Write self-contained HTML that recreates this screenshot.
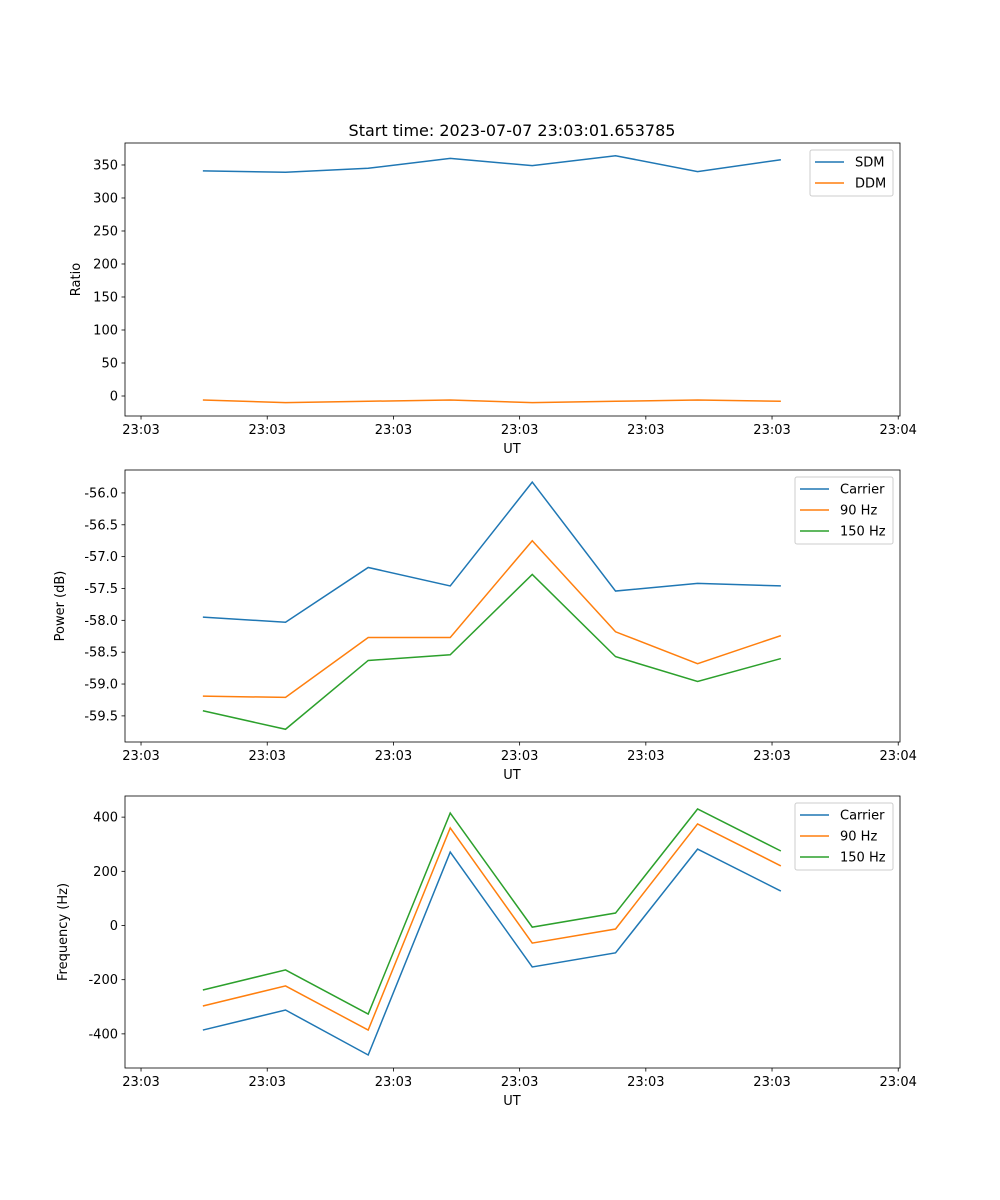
<!DOCTYPE html>
<html><head><meta charset="utf-8"><style>
body{margin:0;background:#fff}
svg{display:block;font-family:"DejaVu Sans","Liberation Sans",sans-serif}
</style></head><body>
<svg id="c" width="1000" height="1200" xmlns="http://www.w3.org/2000/svg">
<text x="512" y="136" font-size="16" text-anchor="middle">Start time: 2023-07-07 23:03:01.653785</text>
</svg>
<script>
const times = [4.9, 11.45, 18.0, 24.5, 31.0, 37.6, 44.1, 50.7];
const xTickVals = [0, 10, 20, 30, 40, 50, 60];
const xTickLabels = ["23:03","23:03","23:03","23:03","23:03","23:03","23:04"];
const sdm = [341, 339, 345, 360, 349, 364, 340, 358];
const ddm = [-6, -10, -8, -6, -10, -8, -6, -8];
const powCarrier = [-57.95, -58.03, -57.17, -57.46, -55.83, -57.54, -57.42, -57.46];
const pow90 = [-59.19, -59.21, -58.27, -58.27, -56.75, -58.18, -58.68, -58.24];
const pow150 = [-59.42, -59.71, -58.63, -58.54, -57.28, -58.57, -58.96, -58.60];
const freqCarrier = [-386, -312, -478, 271, -153, -101, 282, 127];
const freq90 = [-297, -223, -386, 360, -65, -13, 375, 220];
const freq150 = [-238, -164, -327, 415, -6, 46, 430, 275];
const ratioTicks = [0, 50, 100, 150, 200, 250, 300, 350];
const powTicks = [-59.5, -59.0, -58.5, -58.0, -57.5, -57.0, -56.5, -56.0];
const freqTicks = [-400, -200, 0, 200, 400];

const svg = document.getElementById('c');
const NS = 'http://www.w3.org/2000/svg';
const L = 125, R = 900, X0 = -1.27, X1 = 60.14;
const C = ['#1f77b4', '#ff7f0e', '#2ca02c'];
function el(tag, attrs, parent) {
  const e = document.createElementNS(NS, tag);
  for (const k in attrs) e.setAttribute(k, attrs[k]);
  (parent || svg).appendChild(e);
  return e;
}
function xs(t) { return L + (t - X0) / (X1 - X0) * (R - L); }

function panel(name, top, bot, y0, y1, ticks, fmt, ylabel, series, names, legW) {
  const g = el('g', {});
  
  
  const ys = v => bot - (v - y0) / (y1 - y0) * (bot - top);
  series.forEach((s, i) => {
    const p = el('polyline', { points: s.map((v, j) => xs(times[j]) + ',' + ys(v)).join(' '), fill: 'none', stroke: C[i], 'stroke-width': 1.5 }, g);
    
    
  });
  const f = el('rect', { x: L, y: top, width: R - L, height: bot - top, fill: 'none', stroke: '#000', 'stroke-width': 0.8 }, g);
  
  
  xTickVals.forEach((t, i) => {
    const x = xs(t);
    el('line', { x1: x, x2: x, y1: bot, y2: bot + 3.5, stroke: '#000', 'stroke-width': 0.8 }, g);
    const tx = el('text', { x: x, y: bot + 18, 'font-size': 13, 'text-anchor': 'middle' }, g);
    tx.textContent = xTickLabels[i];
    
    
  });
  ticks.forEach(v => {
    const y = ys(v);
    el('line', { x1: L - 3.5, x2: L, y1: y, y2: y, stroke: '#000', 'stroke-width': 0.8 }, g);
    const tx = el('text', { x: L - 7, y: y + 4.5, 'font-size': 13, 'text-anchor': 'end' }, g);
    tx.textContent = fmt(v);
    
    
  });
  const xl = el('text', { x: 512, y: bot + 37, 'font-size': 13, 'text-anchor': 'middle' }, g);
  xl.textContent = 'UT';
  
  
  const cy = (top + bot) / 2;
  const yl = el('text', { x: 0, y: 0, 'font-size': 13, 'text-anchor': 'middle', transform: 'translate(' + (ylabel.x) + ',' + cy + ') rotate(-90)' }, g);
  yl.textContent = ylabel.t;
  
  
  const lg = el('g', {}, g);
  
  
  const lx = 893 - legW, ly = top + 7;
  el('rect', { x: lx, y: ly, width: legW, height: 4 + names.length * 21, rx: 2, fill: '#fff', 'fill-opacity': 0.8, stroke: '#ccc' }, lg);
  names.forEach((n, i) => {
    const y = ly + 12 + i * 21;
    const ln = el('line', { x1: lx + 5, x2: lx + 34, y1: y, y2: y, stroke: C[i], 'stroke-width': 1.5 }, lg);
    
    
    const t = el('text', { x: lx + 45, y: y + 4.5, 'font-size': 13 }, lg);
    t.textContent = n;
    
    
  });
}
panel('ratio', 143, 416, -30.3, 383.3, ratioTicks, v => String(v), { x: 80, t: 'Ratio' }, [sdm, ddm], ['SDM', 'DDM'], 83);
panel('power', 470, 742, -59.91, -55.64, powTicks, v => v.toFixed(1), { x: 64, t: 'Power (dB)' }, [powCarrier, pow90, pow150], ['Carrier', '90 Hz', '150 Hz'], 98);
panel('frequency', 796, 1068, -526, 478, freqTicks, v => String(v), { x: 67, t: 'Frequency (Hz)' }, [freqCarrier, freq90, freq150], ['Carrier', '90 Hz', '150 Hz'], 98);
</script>
</body></html>
